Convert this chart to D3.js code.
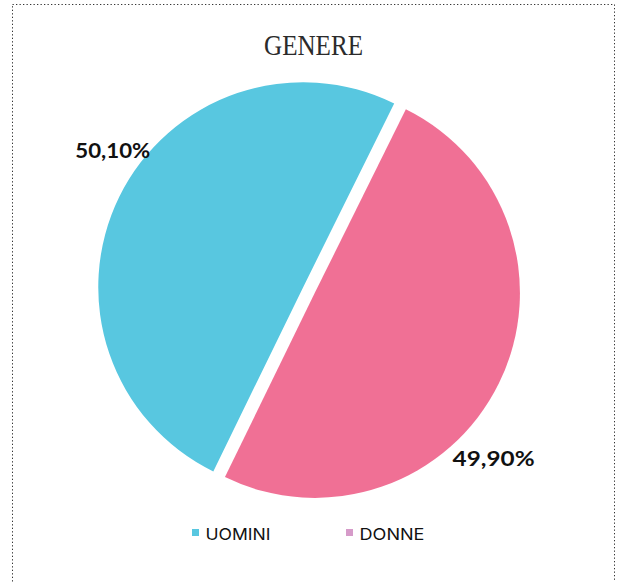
<!DOCTYPE html>
<html><head><meta charset="utf-8">
<script src="https://cdn.jsdelivr.net/npm/d3@7"></script>
<style>html,body{margin:0;padding:0;background:#fff;}svg{display:block;}</style>
</head><body>
<svg id="c" width="617" height="582"></svg>
<script>
const title = "GENERE";
const categories = ["UOMINI", "DONNE"];
const values = [50.1, 49.9];
const valueLabels = ["50,10%", "49,90%"];
const sliceColors = ["#58C7E0", "#F07095"];
const legendColors = ["#58C7E0", "#D69BC9"];

const svg = d3.select("#c");

// dotted frame
svg.append("rect").attr("x", 12.5).attr("y", 4.5).attr("width", 602).attr("height", 600)
  .attr("fill", "none").attr("stroke", "#333").attr("stroke-width", 1).attr("stroke-dasharray", "1.3,2.2");

svg.append("text").attr("x", 313.5).attr("y", 55).attr("text-anchor", "middle")
  .attr("font-family", "Liberation Serif, serif").attr("font-size", 29).attr("fill", "#2b2b2b")
  .attr("textLength", 99).attr("lengthAdjust", "spacingAndGlyphs").text(title);

const cx = 309, cy = 290, r = 205, explode = 6.5;
const deg = Math.PI / 180;
const pie = d3.pie().sort(null).startAngle(-154 * deg).endAngle(206 * deg);
const arcs = pie(values);
const arc = d3.arc().innerRadius(0).outerRadius(r);

const g = svg.append("g").attr("transform", `translate(${cx},${cy})`);
g.selectAll("path").data(arcs).enter().append("path")
  .attr("d", arc)
  .attr("fill", (d, i) => sliceColors[i])
  .attr("transform", d => {
    const a = (d.startAngle + d.endAngle) / 2;
    return `translate(${explode * Math.sin(a)},${-explode * Math.cos(a)})`;
  });

// value labels placed in polar coordinates around the pie
const labelPolar = [{a: -54.5, d: 241}, {a: 132.4, d: 250}];
const labelW = [75, 82];
g.selectAll("text.v").data(arcs).enter().append("text").attr("class", "v")
  .attr("x", (d, i) => labelPolar[i].d * Math.sin(labelPolar[i].a * deg))
  .attr("y", (d, i) => -labelPolar[i].d * Math.cos(labelPolar[i].a * deg) + 7.5)
  .attr("text-anchor", "middle")
  .attr("font-family", "Lato, sans-serif").attr("font-weight", 700).attr("font-size", 21)
  .attr("fill", "#111")
  .attr("textLength", (d, i) => labelW[i]).attr("lengthAdjust", "spacingAndGlyphs")
  .text((d, i) => valueLabels[i]);

// legend
const legendX = [192, 346];
const lg = svg.append("g");
categories.forEach((c, i) => {
  lg.append("rect").attr("x", legendX[i]).attr("y", 529).attr("width", 7).attr("height", 7).attr("fill", legendColors[i]);
  lg.append("text").attr("x", legendX[i] + 13.5).attr("y", 539.5)
    .attr("font-family", "Inter, sans-serif").attr("font-weight", 400).attr("font-size", 16).attr("fill", "#111")
    .attr("textLength", 65).attr("lengthAdjust", "spacingAndGlyphs").text(c);
});
</script>
</body></html>
